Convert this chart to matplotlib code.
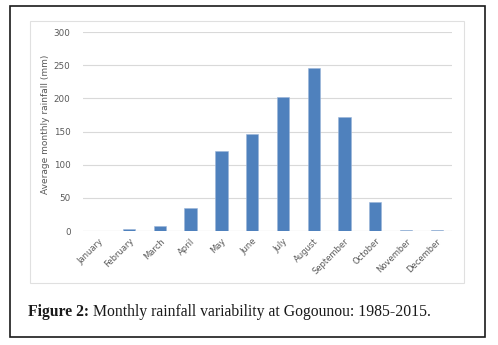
import numpy as np
import matplotlib
matplotlib.use("Agg")
import matplotlib.pyplot as plt
from matplotlib.patches import Rectangle

# monthly averages (mm)
months = ["January", "February", "March", "April", "May", "June", "July",
          "August", "September", "October", "November", "December"]
rain = [0, 2.5, 7, 34, 121, 147, 202, 245, 172, 43, 1, 1]
y_ticks = [0, 50, 100, 150, 200, 250, 300]

grey = "#595959"
bar_col = "#4F81BD"

fig = plt.figure(figsize=(4.98, 3.45), dpi=100)

# outer frame and inner chart box
fig.patches.append(Rectangle((0.0201, 0.0232), 0.954, 0.959, transform=fig.transFigure,
                             fill=False, edgecolor="#1a1a1a", linewidth=1.2))
fig.patches.append(Rectangle((0.0602, 0.1797), 0.8715, 0.7594, transform=fig.transFigure,
                             fill=False, edgecolor="#e0e0e0", linewidth=0.8))

ax = fig.add_axes([0.1667, 0.3304, 0.741, 0.5768])
x = np.arange(len(months))
ax.bar(x, rain, width=0.4, color=bar_col, edgecolor="#9bb5d9", linewidth=0.4, zorder=3)

ax.set_xlim(-0.5, 11.5)
ax.set_ylim(0, 300)
ax.set_yticks(y_ticks)
ax.set_yticklabels([str(v) for v in y_ticks], fontsize=6.3, color=grey)
ax.set_xticks(x)
ax.set_xticklabels(months, rotation=45, ha="right", rotation_mode="anchor",
                   fontsize=6, color=grey)
ax.tick_params(axis="both", length=0)
ax.tick_params(axis="y", pad=9)
ax.tick_params(axis="x", pad=4)
ax.grid(axis="y", color="#d9d9d9", linewidth=0.8, zorder=0)
for s in ax.spines.values():
    s.set_visible(False)
ax.axhline(0, color="#d9d9d9", linewidth=0.8, zorder=1)

ax.set_ylabel("Average monthly rainfall (mm)", fontsize=6.5, color=grey, va="center")
ax.yaxis.set_label_coords(-0.103, 0.538)

# caption with bold lead-in
cap1 = fig.text(0.057, 0.084, "Figure 2:", fontsize=11.3, fontweight="bold",
                family="Liberation Serif", color="#1a1a1a", va="baseline")
fig.canvas.draw()
bb = cap1.get_window_extent(renderer=fig.canvas.get_renderer())
x2 = bb.x1 / fig.bbox.width + 0.008
fig.text(x2, 0.084, "Monthly rainfall variability at Gogounou: 1985-2015.", fontsize=11.3,
         family="Liberation Serif", color="#1a1a1a", va="baseline")

fig.savefig("out.png", dpi=100)
